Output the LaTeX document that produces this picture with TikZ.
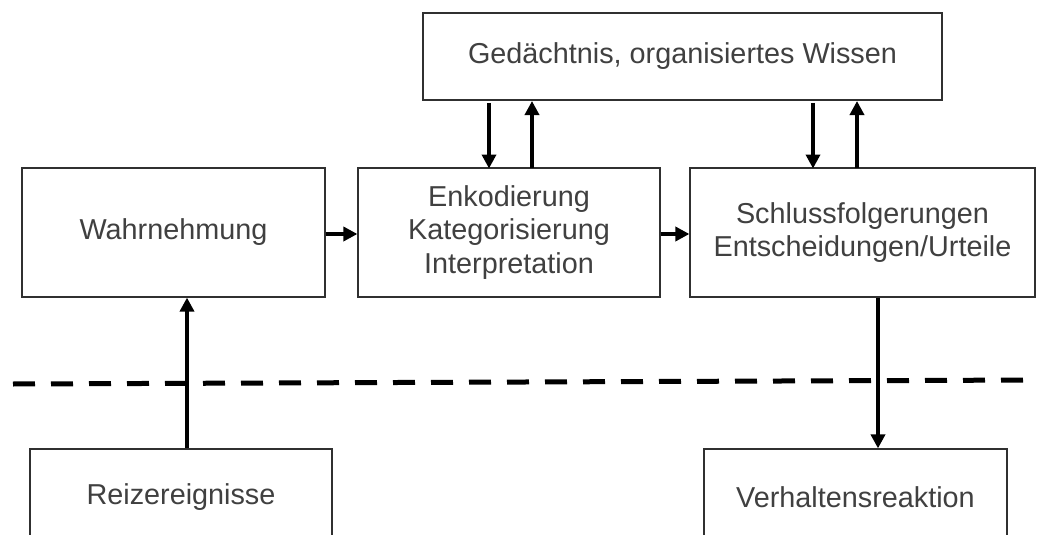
\documentclass[tikz,border=0pt]{standalone}
\usepackage{fontspec}
\setmainfont{Liberation Sans}
\usetikzlibrary{arrows.meta}
\definecolor{txt}{HTML}{404040}
\definecolor{frame}{HTML}{303030}
\tikzset{
  box/.style={draw=frame, line width=1.2pt, fill=white, text=txt, font=\fontsize{28.8}{33.5}\selectfont, align=center, inner sep=0pt},
  conn/.style={line width=4.2pt, -{Triangle[length=14pt,width=14pt]}},
  sep/.style={line width=5pt, dash pattern=on 22pt off 16pt}
}
\begin{document}
\begin{tikzpicture}[x=1pt,y=-1pt]
\useasboundingbox (0,0) rectangle (1037,535);
\clip (0,0) rectangle (1037,535);
\fill[white] (0,0) rectangle (1037,535);
% dashed separator
\coordinate (dl) at (13,384);
\coordinate (dr) at (1037,380);
\draw[sep] (dl) -- (dr);
% boxes
\node[box, minimum width=519pt, minimum height=87pt] (mem) at (682.5,56.5) {Gedächtnis, organisiertes Wissen};
\node[box, minimum width=303pt, minimum height=129pt] (wahr) at (173.5,232.5) {Wahrnehmung};
\node[box, minimum width=302pt, minimum height=129pt] (enk) at (509,232.5) {Enkodierung\\Kategorisierung\\Interpretation};
\node[box, minimum width=345pt, minimum height=129pt] (schl) at (862.5,232.5) {Schlussfolgerungen\\Entscheidungen/Urteile};
\node[box, minimum width=302pt, minimum height=96pt] (reiz) at (181,497) {Reizereignisse};
\node[box, minimum width=303pt, minimum height=96pt] (verh) at (855.5,497) {Verhaltensreaktion};
% horizontal connectors
\draw[conn] (wahr.east |- 0,234) -- (enk.west |- 0,234);
\draw[conn] (enk.east |- 0,234) -- (schl.west |- 0,234);
% memory connectors
\draw[conn] (489,103) -- (489,168.5);
\draw[conn] (532,168) -- (532,101);
\draw[conn] (813,103) -- (813,168.5);
\draw[conn] (857,168) -- (857,101);
% vertical connectors
\draw[conn] (reiz.north -| 187,0) -- (wahr.south -| 187,0);
\draw[conn] (schl.south -| 878,0) -- (verh.north -| 878,0);
\end{tikzpicture}
\end{document}
